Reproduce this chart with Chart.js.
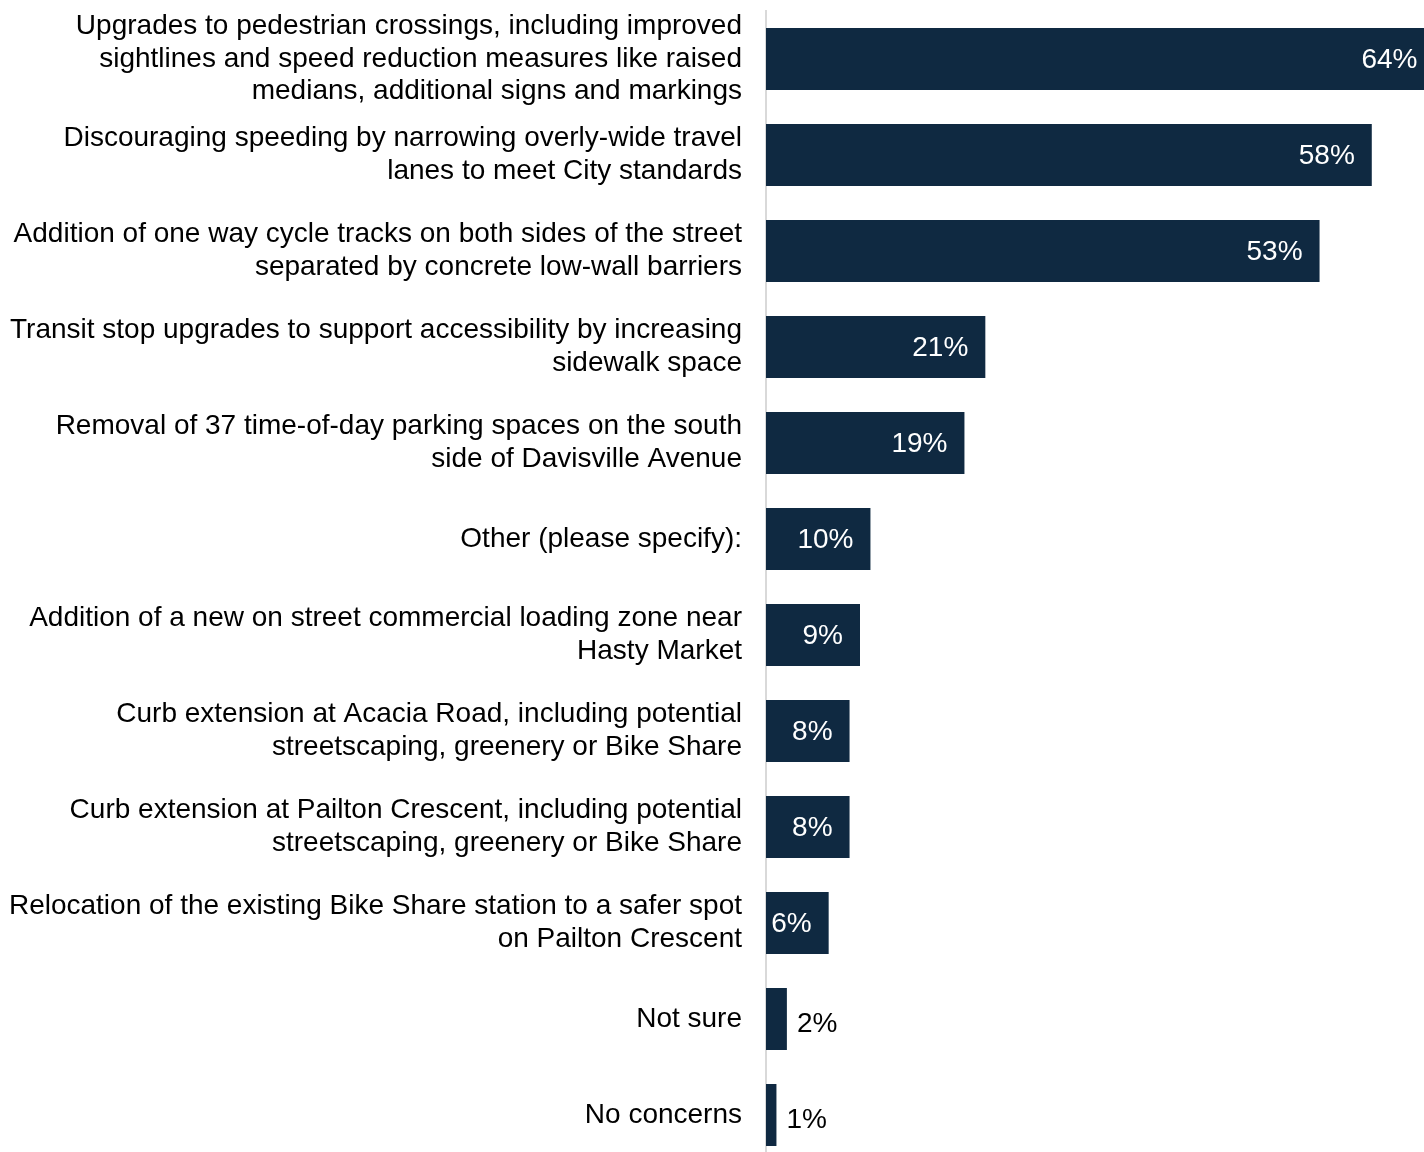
<!DOCTYPE html>
<html>
<head>
<meta charset="utf-8">
<script src="https://cdn.jsdelivr.net/npm/chart.js@4/dist/chart.umd.min.js"></script>
<style>
  html, body { margin: 0; padding: 0; background: #fff; overflow: hidden; }
  #wrap { width: 1424px; height: 1163px; }
</style>
</head>
<body>
<div id="wrap"><canvas id="grafico" width="1424" height="1163"></canvas></div>
<script>
const categorias = [
  ['Upgrades to pedestrian crossings, including improved', 'sightlines and speed reduction measures like raised', 'medians, additional signs and markings'],
  ['Discouraging speeding by narrowing overly-wide travel', 'lanes to meet City standards'],
  ['Addition of one way cycle tracks on both sides of the street', 'separated by concrete low-wall barriers'],
  ['Transit stop upgrades to support accessibility by increasing', 'sidewalk space'],
  ['Removal of 37 time-of-day parking spaces on the south', 'side of Davisville Avenue'],
  'Other (please specify):',
  ['Addition of a new on street commercial loading zone near', 'Hasty Market'],
  ['Curb extension at Acacia Road, including potential', 'streetscaping, greenery or Bike Share'],
  ['Curb extension at Pailton Crescent, including potential', 'streetscaping, greenery or Bike Share'],
  ['Relocation of the existing Bike Share station to a safer spot', 'on Pailton Crescent'],
  'Not sure',
  'No concerns'
];
const porcentajes = [64, 58, 53, 21, 19, 10, 9, 8, 8, 6, 2, 1];

const colorBarra = '#0f2941';
const fuente = '"Liberation Sans", Arial, sans-serif';

// etiquetas de valor dentro / fuera de la barra
const etiquetasValor = {
  id: 'etiquetasValor',
  afterDatasetsDraw(chart) {
    const ctx = chart.ctx;
    const meta = chart.getDatasetMeta(0);
    ctx.save();
    ctx.font = '28px ' + fuente;
    ctx.textBaseline = 'middle';
    meta.data.forEach((bar, i) => {
      const v = porcentajes[i];
      const txt = v + '%';
      if (v >= 5) {
        ctx.fillStyle = '#ffffff';
        ctx.textAlign = 'right';
        ctx.fillText(txt, bar.x - 17, bar.y + 1);
      } else {
        ctx.fillStyle = '#000000';
        ctx.textAlign = 'left';
        ctx.fillText(txt, bar.x + 10, bar.y + 5);
      }
    });
    ctx.restore();
  }
};

new Chart(document.getElementById('grafico'), {
  type: 'bar',
  data: {
    labels: categorias,
    datasets: [{
      data: porcentajes,
      backgroundColor: colorBarra,
      borderWidth: 0,
      categoryPercentage: 1,
      barPercentage: 0.646
    }]
  },
  options: {
    indexAxis: 'y',
    responsive: false,
    animation: false,
    devicePixelRatio: 1,
    layout: { padding: { top: 11, right: 0, bottom: 0, left: 0 } },
    plugins: {
      legend: { display: false },
      tooltip: { enabled: false }
    },
    scales: {
      x: {
        display: false,
        min: 0,
        max: 63
      },
      y: {
        grid: { display: false, drawTicks: false, tickLength: 0 },
        border: { display: true, color: '#d9d9d9', width: 2 },
        ticks: {
          autoSkip: false,
          padding: 24,
          color: '#000000',
          font: { family: fuente, size: 28, lineHeight: 1.16 }
        },
        afterFit(scale) {
          scale.width = 766;
          scale.paddingTop = 0;
          scale.paddingBottom = 0;
        }
      }
    }
  },
  plugins: [etiquetasValor]
});
</script>
</body>
</html>
